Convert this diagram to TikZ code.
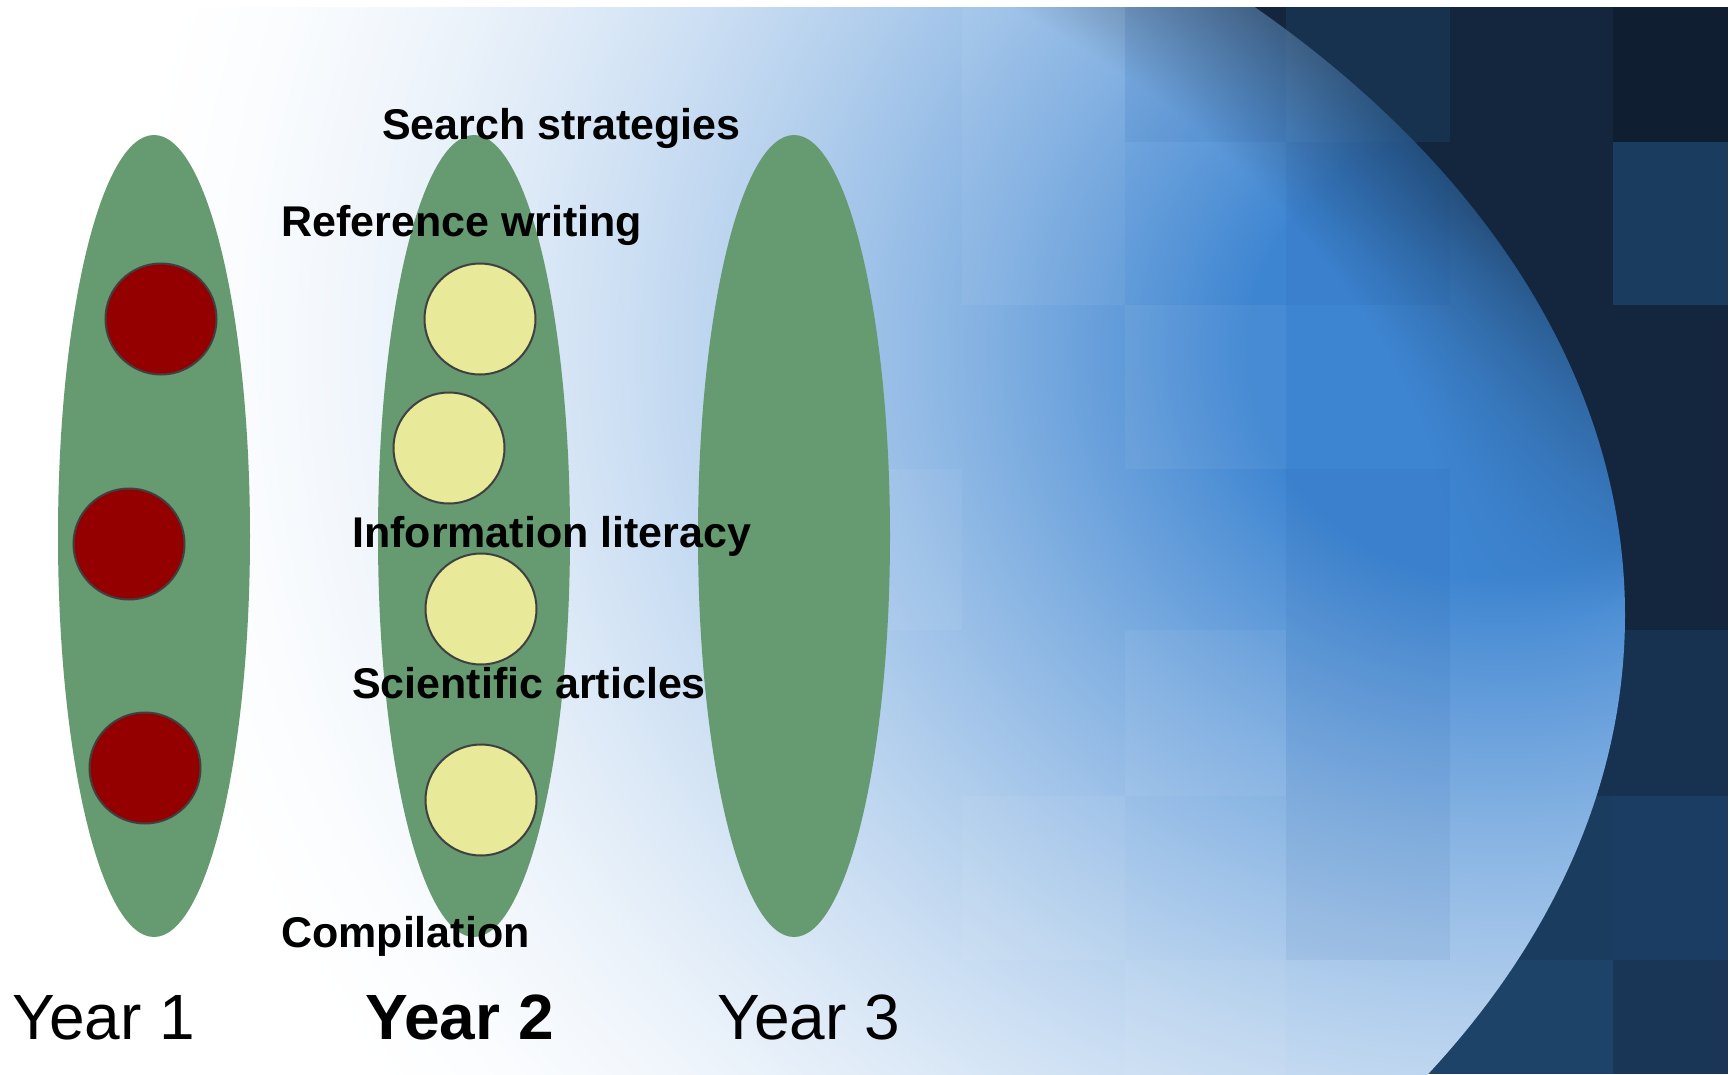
\documentclass[tikz,border=0pt]{standalone}
\usepackage{fontspec}
\setmainfont{Liberation Sans}
\usetikzlibrary{shapes.geometric}
\definecolor{navy}{HTML}{13263D}
\definecolor{navyA}{HTML}{17324F}
\definecolor{navyB}{HTML}{0F1E30}
\definecolor{navyC}{HTML}{1A3C5F}
\definecolor{navyD}{HTML}{173150}
\definecolor{navyE}{HTML}{1B3D63}
\definecolor{navyF}{HTML}{1D4369}
\definecolor{navyG}{HTML}{193657}
\definecolor{tileblue}{HTML}{14468C}
\definecolor{lanegreen}{HTML}{669A70}
\definecolor{dotred}{HTML}{940000}
\definecolor{dotyellow}{HTML}{E8EA9A}
\definecolor{dotline}{HTML}{404040}
\pgfdeclarefunctionalshading{bgshade}{\pgfpoint{0bp}{0bp}}{\pgfpoint{100bp}{100bp}}{}{
75 exch sub 21.48 mul
exch 25 sub 34.6 mul
exch
2 copy
350 sub 1.1 mul dup mul
exch 1500 sub dup mul add sqrt
250 sub 1150 div
dup 0 lt {pop 0} if dup 1 gt {pop 1} if
1 exch sub 1.7 exp
3 1 roll
dup 615 exch sub 400 div
dup 0 lt {pop 0} if dup 1 gt {pop 1} if
3 1 roll
615 sub 900 div dup mul
exch 215 sub 1410 div dup mul add sqrt
0.88 sub 0.12 div
dup 0 lt {pop 0} if dup 1 gt {pop 1} if
mul 0.4 mul 1 exch sub
exch
dup 0.76 mul 1 exch sub
2 index mul
exch
dup 0.48 mul 1 exch sub 3 index mul
exch 0.18 mul 1 exch sub 3 index mul
4 -1 roll pop
}
\tikzset{
  lane/.style={ellipse, fill=lanegreen, draw=none, inner sep=0pt,
    minimum width=192pt, minimum height=802pt},
  dot/.style={circle, draw=dotline, line width=2pt, inner sep=0pt, minimum size=111pt},
  reddot/.style={dot, fill=dotred},
  yellowdot/.style={dot, fill=dotyellow},
  lbl/.style={anchor=base west, inner sep=0pt, text=black,
    font=\fontsize{43}{50}\selectfont\bfseries},
  yearlbl/.style={anchor=base west, inner sep=0pt, text=black,
    font=\fontsize{64}{70}\selectfont},
  tileL/.style={fill=white, fill opacity=0.05},
  tileD/.style={fill=tileblue, fill opacity=0.07}
}
\begin{document}
\begin{tikzpicture}[x=1pt, y=-1pt]
\useasboundingbox (0,0) rectangle (1730,1074);
% dark mosaic background
\fill[navy] (0,0) rectangle (1730,1074);
\fill[navyA] (1286,0) rectangle (1450,142);
\fill[navyB] (1613,0) rectangle (1730,142);
\fill[navyC] (1613,142) rectangle (1730,305);
\fill[navyD] (1450,630) rectangle (1730,796);
\fill[navyC] (1450,796) rectangle (1613,960);
\fill[navyE] (1613,796) rectangle (1730,960);
\fill[navyF] (1286,960) rectangle (1613,1074);
\fill[navyG] (1613,960) rectangle (1730,1074);
\fill[navyE] (1286,796) rectangle (1450,960);
% light elliptical area
\begin{scope}
  \clip (215,615) ellipse [x radius=1410pt, y radius=900pt];
  \shade[shading=bgshade] (0,0) rectangle (1730,1074);
  \fill[tileL] (962,-21) rectangle (1125,142);
  \fill[tileD] (1125,-21) rectangle (1286,142);
  \fill[tileL] (962,142) rectangle (1125,305);
  \fill[tileD] (1286,142) rectangle (1450,305);
  \fill[tileL] (1125,305) rectangle (1286,469);
  \fill[tileL] (801,469) rectangle (962,630);
  \fill[tileD] (1286,469) rectangle (1450,630);
  \fill[tileL] (1125,630) rectangle (1286,796);
  \fill[tileD] (1286,630) rectangle (1450,796);
  \fill[tileL] (962,796) rectangle (1125,960);
  \fill[tileD] (1286,796) rectangle (1450,960);
  \fill[tileL] (1125,960) rectangle (1286,1120);
\end{scope}
% white margins
\fill[white] (0,0) rectangle (1730,7);
\fill[white] (1728,0) rectangle (1730,1074);
% year lanes
\node[lane] (lane1) at (154,536) {};
\node[lane] (lane2) at (474,536) {};
\node[lane] (lane3) at (794,536) {};
% dots
\node[reddot] (r1) at (161,319) {};
\node[reddot] (r2) at (129,544) {};
\node[reddot] (r3) at (145,768) {};
\node[yellowdot] (y1) at (480,319) {};
\node[yellowdot] (y2) at (449,448) {};
\node[yellowdot] (y3) at (481,609) {};
\node[yellowdot] (y4) at (481,800) {};
% labels
\node[lbl] (t1) at (382,139) {Search strategies};
\node[lbl] (t2) at (281,236) {Reference writing};
\node[lbl] (t3) at (352,547) {Information literacy};
\node[lbl] (t4) at (352,698) {Scientific articles};
\node[lbl] (t5) at (281,947) {Compilation};
\node[yearlbl] (yr1) at (12,1039) {Year 1};
\node[yearlbl, font=\fontsize{64}{70}\selectfont\bfseries] (yr2) at (365,1039) {Year 2};
\node[yearlbl] (yr3) at (717,1039) {Year 3};
\end{tikzpicture}
\end{document}
